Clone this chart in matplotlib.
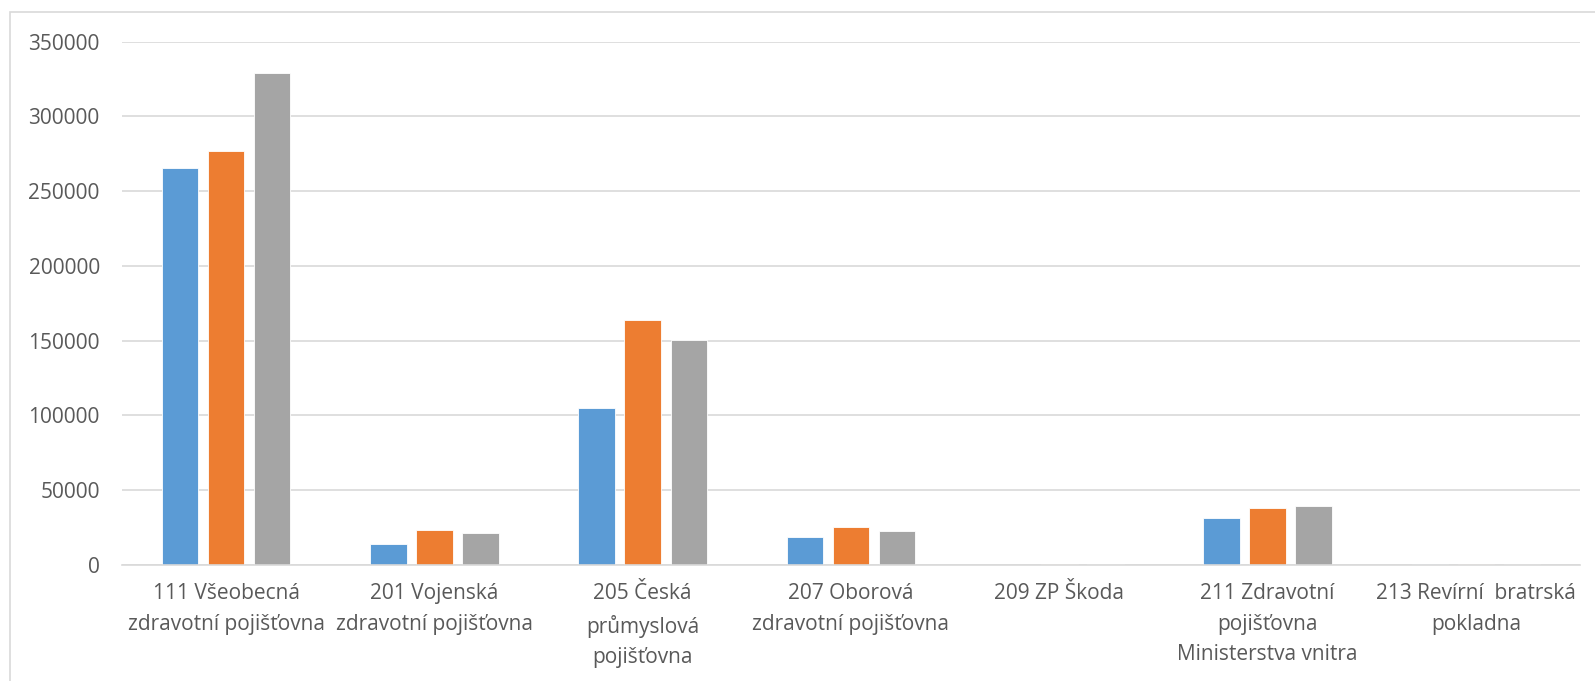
import matplotlib
matplotlib.use('Agg')
import matplotlib.pyplot as plt
from matplotlib.patches import Rectangle
import numpy as np

plt.rcParams['font.family'] = ['Open Sans', 'DejaVu Sans']

categories = ['111 Všeobecná\nzdravotní pojišťovna',
              '201 Vojenská\nzdravotní pojišťovna',
              '205 Česká\nprůmyslová\npojišťovna',
              '207 Oborová\nzdravotní pojišťovna',
              '209 ZP Škoda',
              '211 Zdravotní\npojišťovna\nMinisterstva vnitra',
              '213 Revírní  bratrská\npokladna']
series_1 = [265500, 13800, 104900, 18400, 300, 31300, 700]
series_2 = [277000, 23200, 164100, 25200, 400, 38100, 800]
series_3 = [328900, 21100, 150500, 22500, 800, 39500, 600]
yticks = [0, 50000, 100000, 150000, 200000, 250000, 300000, 350000]

colors = ['#5B9BD5', '#ED7D31', '#A5A5A5']
text_color = '#595959'
grid_color = '#D9D9D9'

fig = plt.figure(figsize=(15.95, 6.81), dpi=100)
# chart area border (right and bottom edges fall outside the picture)
fig.patches.append(Rectangle((10 / 1595, -0.05), 1.0, 1.05 - 12 / 681,
                             transform=fig.transFigure, fill=False,
                             edgecolor=grid_color, linewidth=1.2))
ax = fig.add_axes([122 / 1595, 116 / 681, 1458 / 1595, 523.3 / 681])

x = np.arange(len(categories))
w = 0.175
for i, vals in enumerate([series_1, series_2, series_3]):
    ax.bar(x + (i - 1) * 0.221, vals, width=w, color=colors[i],
           edgecolor='white', linewidth=0.6, zorder=3)

ax.set_xlim(-0.5, len(categories) - 0.5)
ax.set_ylim(0, 350000)
ax.set_yticks(yticks)
ax.set_yticklabels([str(v) for v in yticks])
ax.set_xticks(x)
ax.set_xticklabels(categories, linespacing=1.6)

ax.yaxis.grid(True, color=grid_color, linewidth=1.2, zorder=0)
for s in ['top', 'right', 'left']:
    ax.spines[s].set_visible(False)
ax.spines['bottom'].set_color(grid_color)
ax.spines['bottom'].set_linewidth(1.2)
ax.spines['bottom'].set_zorder(4)
ax.tick_params(axis='both', length=0, labelsize=15, labelcolor=text_color)
ax.tick_params(axis='x', pad=13)
ax.tick_params(axis='y', pad=16)

fig.savefig('out.png', dpi=100)
